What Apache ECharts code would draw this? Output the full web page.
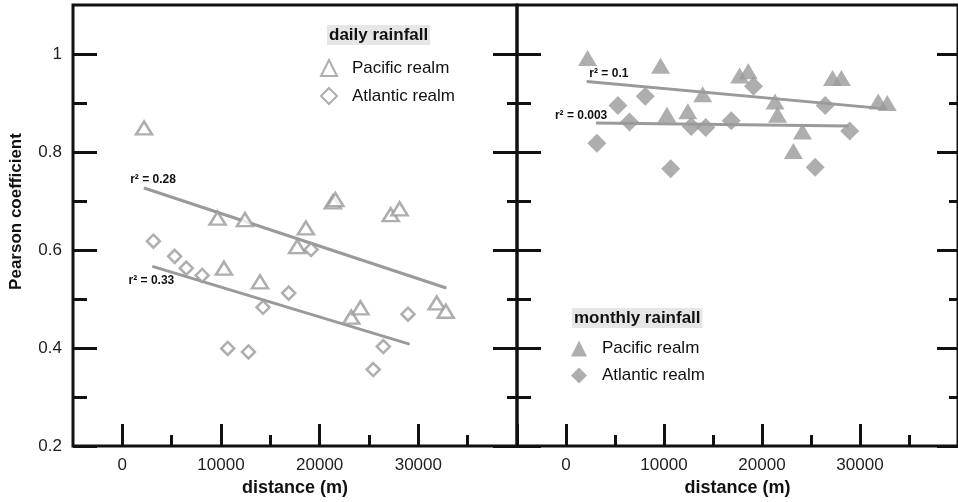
<!DOCTYPE html>
<html>
<head>
<meta charset="utf-8">
<title>Pearson coefficient vs distance</title>
<script src="https://cdn.jsdelivr.net/npm/echarts@6/dist/echarts.min.js"></script>
<style>
  html, body { margin: 0; padding: 0; background: #fff; }
  #chart { width: 958px; height: 502px; }
</style>
</head>
<body>
<div id="chart"></div>
<script>
// station distances (m)
const pacificDist = [2200, 9650, 10300, 12430, 13950, 17720, 18600, 21330, 21590, 23200, 24130, 27200, 28100, 31860, 32780]
const atlanticDist = [3150, 5300, 6480, 8090, 10680, 12780, 14260, 16860, 19130, 25430, 26450, 28950]

// pearson coefficients
const pacificDaily = [0.849, 0.665, 0.563, 0.662, 0.535, 0.607, 0.645, 0.698, 0.703, 0.463, 0.482, 0.672, 0.684, 0.492, 0.475]
const atlanticDaily = [0.618, 0.587, 0.563, 0.548, 0.399, 0.392, 0.483, 0.512, 0.601, 0.356, 0.403, 0.469]
const pacificMonthly = [0.992, 0.976, 0.876, 0.883, 0.918, 0.956, 0.965, 0.903, 0.876, 0.802, 0.842, 0.951, 0.951, 0.903, 0.900]
const atlanticMonthly = [0.818, 0.895, 0.861, 0.914, 0.766, 0.852, 0.850, 0.864, 0.934, 0.769, 0.895, 0.843]

// regression lines (end points) and r²
const fitDailyPacific = [[2200, 0.7265], [32830, 0.5224]]
const fitDailyAtlantic = [[3050, 0.5667], [29100, 0.408]]
const fitMonthlyPacific = [[2130, 0.944], [32690, 0.888]]
const fitMonthlyAtlantic = [[3070, 0.859], [28810, 0.853]]
const r2Labels = ['r² = 0.28', 'r² = 0.33', 'r² = 0.1', 'r² = 0.003']

// axis ticks
const xMajor = [0, 10000, 20000, 30000, 40000]
const xMinor = [5000, 15000, 25000, 35000]
const xLabels = [0, 10000, 20000, 30000]
const yMajor = [0.2, 0.4, 0.6, 0.8, 1]
const yMinor = [0.3, 0.5, 0.7, 0.9]

const FONT = '"Liberation Sans", Arial, sans-serif'
const GRAY = '#9a9a9a'

const chart = echarts.init(document.getElementById('chart'))

function pairs(xs, ys) {
  return xs.map((x, i) => [x, ys[i]])
}

function xAxes(gridIndex) {
  return [
    {
      gridIndex,
      type: 'value',
      position: 'bottom',
      min: -5000,
      max: 40000,
      axisLine: { show: false, onZero: false },
      splitLine: { show: false },
      axisTick: { inside: true, length: 22, customValues: xMajor, lineStyle: { color: '#111', width: 3 } },
      axisLabel: { customValues: xLabels, margin: 11, fontSize: 17, color: '#222', fontFamily: FONT, formatter: v => String(v) },
      name: 'distance (m)',
      nameLocation: 'middle',
      nameGap: 33,
      nameTextStyle: { fontSize: 18, fontWeight: 'bold', color: '#111', fontFamily: FONT }
    },
    {
      gridIndex,
      type: 'value',
      position: 'bottom',
      min: -5000,
      max: 40000,
      axisLine: { show: false, onZero: false },
      splitLine: { show: false },
      axisTick: { inside: true, length: 11, customValues: xMinor, lineStyle: { color: '#111', width: 3 } },
      axisLabel: { show: false }
    }
  ]
}

function yAxis(gridIndex, position, values, length, withLabels) {
  const axis = {
    gridIndex,
    type: 'value',
    position,
    min: 0.2,
    max: 1.1,
    axisLine: { show: false, onZero: false },
    splitLine: { show: false },
    axisTick: { inside: true, length, customValues: values, lineStyle: { color: '#111', width: 3 } },
    axisLabel: { show: false }
  }
  if (withLabels) {
    axis.axisLabel = { show: true, customValues: yMajor, margin: 11, fontSize: 17, color: '#222', fontFamily: FONT, formatter: v => String(v) }
    axis.name = 'Pearson coefficient'
    axis.nameLocation = 'middle'
    axis.nameRotate = 90
    axis.nameGap = 48
    axis.nameTextStyle = { fontSize: 17, fontWeight: 'bold', color: '#111', fontFamily: FONT, padding: [0, 0, 0, 28] }
  }
  return axis
}

function fitLine(name, points, xi, yi, labelText, labelPos, labelOffset) {
  return {
    name,
    type: 'line',
    xAxisIndex: xi,
    yAxisIndex: yi,
    symbol: 'circle',
    symbolSize: 1,
    itemStyle: { color: GRAY },
    lineStyle: { color: GRAY, width: 3 },
    z: 1,
    data: [
      {
        value: points[0],
        label: {
          show: true,
          formatter: labelText,
          position: labelPos,
          offset: labelOffset,
          fontSize: 12,
          fontWeight: 'bold',
          color: '#111',
          fontFamily: FONT
        }
      },
      { value: points[1] }
    ]
  }
}

const openStyle = { color: '#fff', borderColor: GRAY, borderWidth: 2.5 }
const filledStyle = { color: GRAY }

const legendBase = {
  orient: 'vertical',
  padding: 0,
  itemWidth: 16,
  itemHeight: 16,
  itemGap: 10,
  selectedMode: false,
  formatter: n => n.replace(/ \(.*\)$/, ''),
  textStyle: { fontSize: 17, color: '#111', fontFamily: FONT, padding: [0, 0, 0, 10] }
}

const option = {
  animation: false,
  backgroundColor: '#fff',
  title: [
    {
      text: 'daily rainfall',
      left: 327,
      top: 25,
      padding: [1, 2],
      backgroundColor: '#e6e6e6',
      textStyle: { fontSize: 17, fontWeight: 'bold', color: '#111', fontFamily: FONT, lineHeight: 18 }
    },
    {
      text: 'monthly rainfall',
      left: 572,
      top: 308,
      padding: [1, 2],
      backgroundColor: '#e6e6e6',
      textStyle: { fontSize: 17, fontWeight: 'bold', color: '#111', fontFamily: FONT, lineHeight: 18 }
    }
  ],
  legend: [
    Object.assign({}, legendBase, { left: 320, top: 59, data: ['Pacific realm (daily)', 'Atlantic realm (daily)'] }),
    Object.assign({}, legendBase, { left: 571, top: 340, data: ['Pacific realm (monthly)', 'Atlantic realm (monthly)'] })
  ],
  grid: [
    { left: 73, top: 5, width: 444, height: 444, show: true, borderColor: '#111', borderWidth: 3 },
    { left: 517, top: 5, width: 443, height: 444, show: true, borderColor: '#111', borderWidth: 3 }
  ],
  xAxis: [...xAxes(0), ...xAxes(1)],
  yAxis: [
    yAxis(0, 'left', yMajor, 24, true),
    yAxis(0, 'left', yMinor, 14, false),
    yAxis(0, 'right', yMajor, 24, false),
    yAxis(0, 'right', yMinor, 10, false),
    yAxis(1, 'left', yMajor, 24, false),
    yAxis(1, 'left', yMinor, 14, false),
    yAxis(1, 'right', yMajor, 21, false),
    yAxis(1, 'right', yMinor, 9, false)
  ],
  series: [
    fitLine('fit daily pacific', fitDailyPacific, 0, 0, r2Labels[0], 'top', [9, 3]),
    fitLine('fit daily atlantic', fitDailyAtlantic, 0, 0, r2Labels[1], 'bottom', [-1, 3]),
    fitLine('fit monthly pacific', fitMonthlyPacific, 2, 4, r2Labels[2], 'top', [22, 4]),
    fitLine('fit monthly atlantic', fitMonthlyAtlantic, 2, 4, r2Labels[3], 'top', [-15, 4]),
    {
      name: 'Pacific realm (daily)',
      type: 'scatter',
      xAxisIndex: 0,
      yAxisIndex: 0,
      symbol: 'triangle',
      symbolSize: [16, 13],
      itemStyle: openStyle,
      z: 3,
      data: pairs(pacificDist, pacificDaily)
    },
    {
      name: 'Atlantic realm (daily)',
      type: 'scatter',
      xAxisIndex: 0,
      yAxisIndex: 0,
      symbol: 'diamond',
      symbolSize: 13,
      itemStyle: openStyle,
      z: 3,
      data: pairs(atlanticDist, atlanticDaily)
    },
    {
      name: 'Pacific realm (monthly)',
      type: 'scatter',
      xAxisIndex: 2,
      yAxisIndex: 4,
      symbol: 'triangle',
      symbolSize: [19, 16],
      itemStyle: filledStyle,
      z: 3,
      data: pairs(pacificDist, pacificMonthly)
    },
    {
      name: 'Atlantic realm (monthly)',
      type: 'scatter',
      xAxisIndex: 2,
      yAxisIndex: 4,
      symbol: 'diamond',
      symbolSize: 19,
      itemStyle: filledStyle,
      z: 3,
      data: pairs(atlanticDist, atlanticMonthly)
    }
  ]
}

chart.setOption(option)
</script>
</body>
</html>
